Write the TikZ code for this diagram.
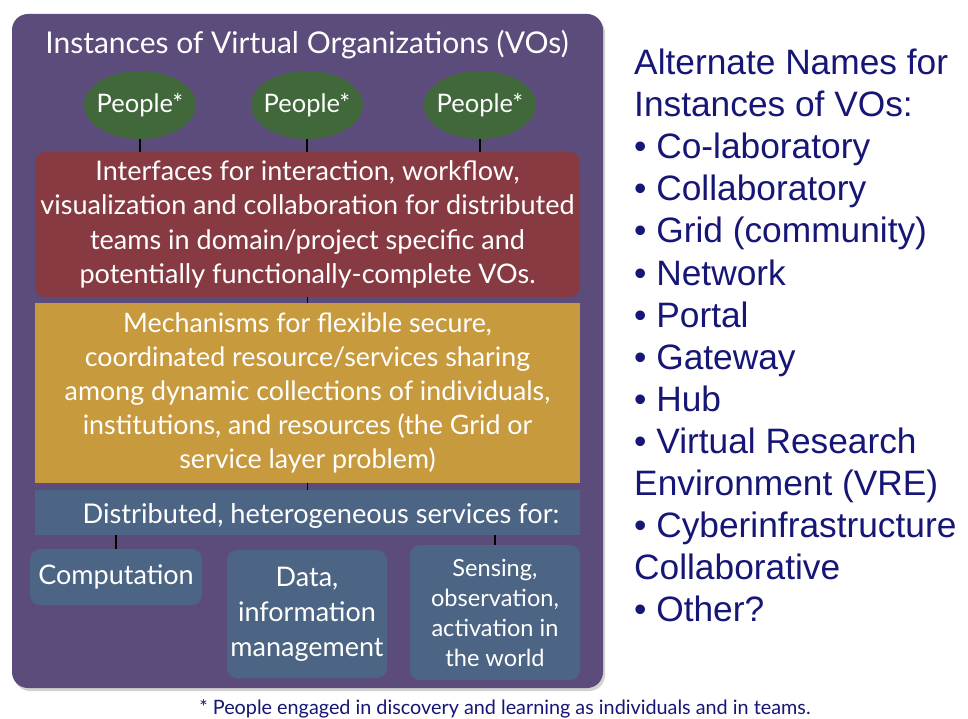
\documentclass[tikz,border=0pt]{standalone}
\usepackage{fontspec}
\setmainfont{Lato}
\newfontfamily\arialf{Liberation Sans}
\usetikzlibrary{shapes.geometric,shadows}
\definecolor{vopurple}{RGB}{92,76,124}
\definecolor{vogreen}{RGB}{64,104,58}
\definecolor{vored}{RGB}{135,58,66}
\definecolor{voorange}{RGB}{200,154,62}
\definecolor{voblue}{RGB}{76,101,132}
\definecolor{vonavy}{RGB}{22,22,118}
\tikzset{
  x=1pt,y=-1pt,
  wtext/.style={text=white,align=center,inner sep=0pt},
  layerbox/.style={wtext,minimum width=545pt},
  svcbox/.style={wtext,fill=voblue,rounded corners=10pt},
  link/.style={draw=black,line width=1.6pt},
  rline/.style={anchor=base west,inner sep=0pt,text=vonavy,font=\arialf\fontsize{35.3}{42}\selectfont},
  person/.style={ellipse,fill=vogreen,minimum width=112pt,minimum height=68pt,inner sep=0pt,
    label={[wtext,font=\fontsize{25.5}{28}\selectfont]center:People*}},
}
\begin{document}
\begin{tikzpicture}
\useasboundingbox (0,0) rectangle (968,719);
\fill[white] (0,0) rectangle (968,719);
\node[fill=vopurple,rounded corners=16pt,minimum width=591pt,minimum height=674pt,inner sep=0pt,
  drop shadow={opacity=0.35,shadow xshift=2pt,shadow yshift=-3pt}] (frame) at (307.5,351) {};
\node[wtext,anchor=base,font=\fontsize{30}{33}\selectfont] (title) at (307,54) {Instances of Virtual Organizations (VOs)};
\foreach \i/\xx in {1/140,2/307,3/480}{
  \node[person] (p\i) at (\xx,105) {};
}
\node[layerbox,fill=vored,rounded corners=10pt,minimum height=145pt,font=\fontsize{27}{34.5}\selectfont]
  (iface) at (307.5,224.5) {Interfaces for interaction, workflow,\\visualization and collaboration for distributed\\teams in domain/project specific and\\potentially functionally-complete VOs.};
\node[layerbox,fill=voorange,minimum height=180pt,font=\fontsize{26.8}{34}\selectfont]
  (mech) at (307.5,393) {Mechanisms for flexible secure,\\coordinated resource/services sharing\\among dynamic collections of individuals,\\institutions, and resources (the Grid or\\service layer problem)};
\node[layerbox,fill=voblue,minimum height=45pt] (dist) at (307.5,512.5) {};
\node[wtext,anchor=base,font=\fontsize{27.2}{30}\selectfont] (distt) at (321,523) {Distributed, heterogeneous services for:};
\node[svcbox,minimum width=172pt,minimum height=56pt,font=\fontsize{27}{30}\selectfont] (comp) at (116,577) {Computation};
\node[svcbox,minimum width=160pt,minimum height=128pt,font=\fontsize{27}{35}\selectfont] (data) at (307,614) {Data,\\information\\management};
\node[svcbox,minimum width=170pt,minimum height=135pt,font=\fontsize{23.6}{30}\selectfont] (sens) at (495,612.5) {Sensing,\\observation,\\activation in\\the world};
\foreach \i in {1,2,3}{ \draw[link] (p\i.south) -- (p\i.south |- iface.north); }
\draw[link] (iface.south) -- (mech.north);
\draw[link] (mech.south) -- (dist.north);
\draw[link] (comp.north) -- (comp.north |- dist.south);
\draw[link] (sens.north) -- (sens.north |- dist.south);
\node[anchor=base,inner sep=0pt,text=vonavy,font=\fontsize{19.8}{22}\selectfont] (foot) at (505,714) {* People engaged in discovery and learning as individuals and in teams.};
\foreach \t [count=\k] in {Alternate Names for,Instances of VOs:,\textbullet\ Co-laboratory,\textbullet\ Collaboratory,\textbullet\ Grid (community),\textbullet\ Network,\textbullet\ Portal,\textbullet\ Gateway,\textbullet\ Hub,\textbullet\ Virtual Research,Environment (VRE),\textbullet\ Cyberinfrastructure,Collaborative,\textbullet\ Other?}{
  \node[rline] (r\k) at (634,{75+(\k-1)*42}) {\t};
}
\end{tikzpicture}
\end{document}
